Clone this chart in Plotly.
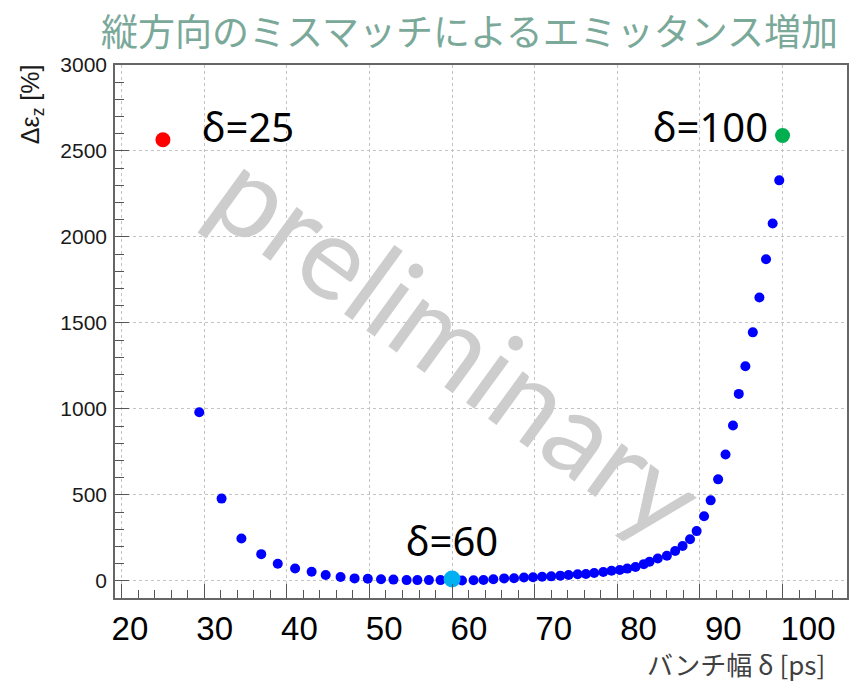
import plotly.graph_objects as go

# Bunch width delta [ps] and longitudinal emittance growth [%]
delta_ps = [29.4, 32.1, 34.5, 36.9, 38.9, 41.0, 43.0, 44.7, 46.5, 48.2,
            49.8, 51.4, 52.9, 54.5, 55.8, 57.2, 58.6, 59.9, 61.2, 62.6,
            63.8, 65.0, 66.3, 67.5, 68.7, 69.8, 70.9, 72.0, 73.1, 74.1,
            75.2, 76.2, 77.2, 78.3, 79.3, 80.3, 81.2, 82.2, 83.2, 83.9,
            84.9, 86.0, 87.0, 87.9, 88.8, 89.6, 90.5, 91.3, 92.2, 93.1,
            94.0, 94.7, 95.5, 96.4, 97.2, 98.0, 98.8, 99.6]
growth_pct = [980, 478, 246, 155, 99, 72, 53, 34, 22, 14,
              12, 9, 7, 4, 4, 4, 4, 3, 2, 3,
              5, 9, 14, 15, 19, 21, 24, 26, 30, 34,
              38, 40, 45, 51, 58, 63, 71, 80, 97, 111,
              130, 146, 173, 202, 242, 289, 375, 468, 590, 735,
              903, 1087, 1248, 1445, 1648, 1870, 2078, 2329]

# Highlighted cases
case_delta = [25, 60, 100]
case_growth = [2565, 10, 2590]
case_colors = ["#ff0000", "#00b0f0", "#00b050"]
case_sizes = [15, 17, 15]
case_labels = ["δ=25", "δ=60", "δ=100"]

x_ticks = [20, 30, 40, 50, 60, 70, 80, 90, 100]
y_ticks = [0, 500, 1000, 1500, 2000, 2500, 3000]

W, H = 856, 683
L, R, T, B = 115, 7, 65, 85
PW, PH = W - L - R, H - T - B


def px(xp):
    return (xp - L) / PW


def py(yp):
    return 1 - (yp - T) / PH


fig = go.Figure()
fig.add_trace(go.Scatter(x=delta_ps, y=growth_pct, mode="markers",
                         marker=dict(color="#0000ff", size=10),
                         showlegend=False, hoverinfo="x+y"))
for d, g, c, s in zip(case_delta, case_growth, case_colors, case_sizes):
    fig.add_trace(go.Scatter(x=[d], y=[g], mode="markers",
                             marker=dict(color=c, size=s),
                             showlegend=False))
# carrier for the label axis
fig.add_trace(go.Scatter(x=[None], y=[None], xaxis="x2", showlegend=False,
                         hoverinfo="skip"))

grid = dict(showgrid=True, gridcolor="#c4c4c4", griddash="dot", gridwidth=1)

fig.update_layout(
    width=W, height=H,
    margin=dict(l=L, r=R, t=T, b=B),
    paper_bgcolor="white", plot_bgcolor="white",
    xaxis=dict(range=[19.2, 107.8], tickvals=x_ticks, showticklabels=False,
               ticks="inside", ticklen=14, tickcolor="#555",
               minor=dict(dtick=2, tick0=20, ticks="inside", ticklen=8,
                          tickcolor="#555", showgrid=False),
               showline=True, linecolor="#666", linewidth=1.5, mirror=True,
               zeroline=False, **grid),
    xaxis2=dict(range=[18.24, 104.6], overlaying="x", anchor="y", side="bottom",
                tickvals=x_ticks, ticktext=[str(v) for v in x_ticks],
                showgrid=False, zeroline=False, showline=False, ticks="",
                ticklabelstandoff=8,
                tickfont=dict(family="Liberation Sans", size=33, color="#000")),
    yaxis=dict(range=[-100, 3000], tickvals=y_ticks,
               ticks="inside", ticklen=14, tickcolor="#555",
               minor=dict(dtick=100, tick0=0, ticks="inside", ticklen=9,
                          tickcolor="#555", showgrid=False),
               showline=True, linecolor="#666", linewidth=1.5, mirror=True,
               zeroline=False, ticklabelstandoff=2,
               tickfont=dict(family="Liberation Sans", size=21, color="#1a1a1a"),
               **grid),
)

ann = []
# title
ann.append(dict(text="縦方向のミスマッチによるエミッタンス増加", xref="paper", yref="paper",
                x=px(470), y=py(30), xanchor="center", yanchor="middle", showarrow=False,
                font=dict(family="Noto Sans CJK JP", size=37, color="#7aa99a")))
# axis titles
ann.append(dict(text="バンチ幅 δ [ps]", xref="paper", yref="paper",
                x=px(828), y=py(663), xanchor="right", yanchor="middle", showarrow=False,
                borderpad=0,
                font=dict(family="Noto Sans CJK JP", size=26, color="#404040")))
ann.append(dict(text="Δε<sub>z</sub> [%]", xref="paper", yref="paper",
                x=px(32), y=py(62), xanchor="center", yanchor="top", textangle=-90,
                showarrow=False,
                font=dict(family="Liberation Sans", size=25, color="#1a1a1a")))
# case labels
label_pos = [(248, 126), (453, 540), (712, 126)]
for t, (lx, ly) in zip(case_labels, label_pos):
    ann.append(dict(text=t, xref="paper", yref="paper", x=px(lx), y=py(ly),
                    xanchor="center", yanchor="middle", showarrow=False,
                    font=dict(family="Noto Sans", size=40, color="#000")))
# watermark
ann.append(dict(text="preliminary", xref="paper", yref="paper", x=px(460), y=py(342),
                xanchor="center", yanchor="middle", textangle=36, showarrow=False,
                font=dict(family="Lato", size=116, color="#cdcdcd")))
fig.update_layout(annotations=ann)

fig.write_html("out.html")
